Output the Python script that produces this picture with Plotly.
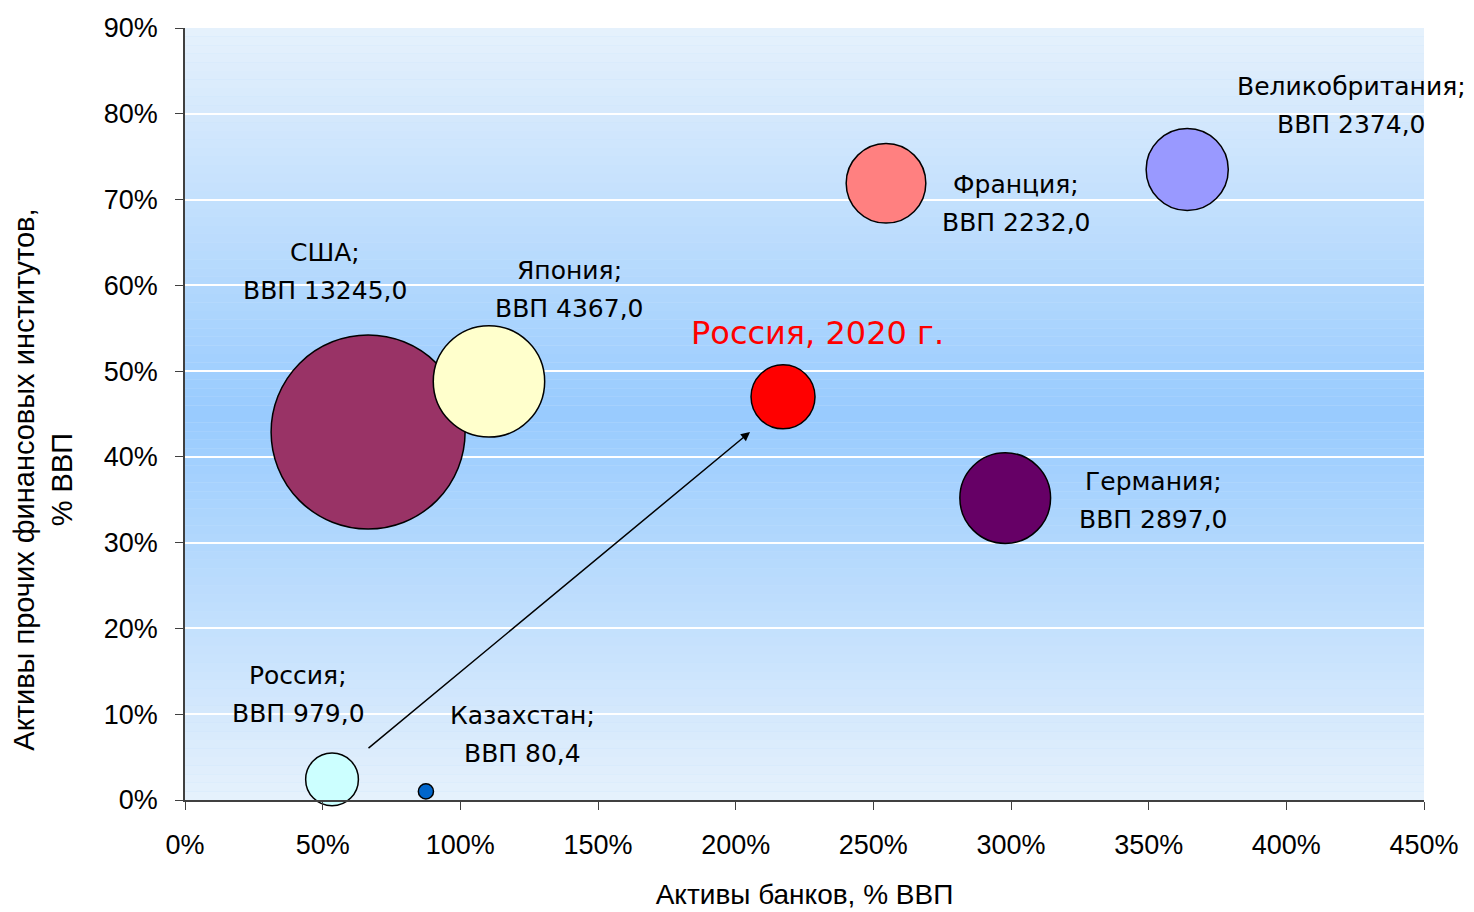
import plotly.graph_objects as go

# ---- data ----
countries = ["Россия", "Казахстан", "США", "Япония", "Франция", "Великобритания", "Германия", "Россия, 2020 г."]
bank_assets = [53.4, 87.5, 66.5, 110.4, 254.6, 364.0, 297.9, 217.2]      # % ВВП (x)
other_assets = [2.4, 1.0, 42.9, 48.8, 71.9, 73.5, 35.2, 47.0]            # % ВВП (y)
gdp = [979.0, 80.4, 13245.0, 4367.0, 2232.0, 2374.0, 2897.0, 1440.0]
gdp_labels = ["979,0", "80,4", "13245,0", "4367,0", "2232,0", "2374,0", "2897,0", None]
colors = ["#CCFFFF", "#0066CC", "#993366", "#FFFFCC", "#FF8080", "#9999FF", "#660066", "#FF0000"]

x_ticks = [0, 50, 100, 150, 200, 250, 300, 350, 400, 450]
y_ticks = [0, 10, 20, 30, 40, 50, 60, 70, 80, 90]
x_tick_labels = ["%d%%" % v for v in x_ticks]
y_tick_labels = ["%d%%" % v for v in y_ticks]

arrow_from = (66.1, 5.9)
arrow_to = (205.2, 42.9)

# label offsets in pixels (dx, dy-up) of the label block centre from bubble centre
label_offsets = [(-34, 85), (97, 57), (-43, 161), (81, 92), (130, -20), (164, 64), (148, -2), (34, 64)]

MAX_DIAM = 194

fig = go.Figure()

# gradient background of plot area
n = 90
top = (230, 241, 252)
mid = (152, 203, 254)
for i in range(n):
    t0 = i / n
    t1 = (i + 1) / n
    tc = (t0 + t1) / 2
    f = 1 - abs(tc - 0.5) / 0.5
    c = tuple(round(top[k] + (mid[k] - top[k]) * f) for k in range(3))
    fig.add_shape(type="rect", xref="x domain", yref="y domain", x0=0, x1=1, y0=t0, y1=t1,
                  fillcolor="rgb(%d,%d,%d)" % c, line=dict(width=0), layer="below")

fig.add_trace(go.Scatter(
    x=bank_assets, y=other_assets, mode="markers",
    marker=dict(size=gdp, sizemode="area", sizeref=2 * max(gdp) / MAX_DIAM ** 2,
                color=colors, line=dict(color="black", width=1.5), opacity=1),
    hoverinfo="skip", showlegend=False, cliponaxis=False,
))

label_font = dict(family="DejaVu Sans, Verdana, sans-serif", size=25, color="black")
for name, x, y, g, (dx, dy) in zip(countries, bank_assets, other_assets, gdp_labels, label_offsets):
    if g is None:
        fig.add_annotation(x=x, y=y, text=name, showarrow=False, xshift=dx, yshift=dy,
                           font=dict(family="DejaVu Sans, Verdana, sans-serif", size=32, color="#FF0000"))
    else:
        fig.add_annotation(x=x, y=y, text=name + ";", showarrow=False, xshift=dx, yshift=dy + 19,
                           font=label_font)
        fig.add_annotation(x=x, y=y, text="ВВП " + g, showarrow=False, xshift=dx, yshift=dy - 19,
                           font=label_font)

fig.add_annotation(x=arrow_to[0], y=arrow_to[1], ax=arrow_from[0], ay=arrow_from[1],
                   xref="x", yref="y", axref="x", ayref="y", showarrow=True,
                   arrowhead=2, arrowsize=1.2, arrowwidth=1.5, arrowcolor="black", text="")

axis_font = dict(family="Liberation Sans, Arial, sans-serif", size=27, color="black")
fig.update_xaxes(range=[0, 450], tickmode="array", tickvals=x_ticks, ticktext=x_tick_labels,
                 showgrid=False, zeroline=False,
                 showline=True, linecolor="#404040", linewidth=1.5, ticks="outside", ticklen=8,
                 tickcolor="#404040", tickfont=axis_font, ticklabelstandoff=12,
                 title=dict(text="Активы банков, % ВВП", font=dict(family="Liberation Sans, Arial, sans-serif",
                            size=28, color="black"), standoff=25))
fig.update_yaxes(range=[0, 90], tickmode="array", tickvals=y_ticks, ticktext=y_tick_labels,
                 showgrid=True, gridcolor="white",
                 gridwidth=2, zeroline=False, showline=True, linecolor="#404040", linewidth=1.5,
                 ticks="outside", ticklen=8, tickcolor="#404040", tickfont=axis_font, ticklabelstandoff=12)

fig.add_annotation(xref="paper", yref="paper", x=-0.1146, y=0.415, xanchor="center", yanchor="middle",
                   text="Активы прочих финансовых институтов,<br>% ВВП", textangle=-90, showarrow=False,
                   font=dict(family="Liberation Sans, Arial, sans-serif", size=29, color="black"))

fig.update_layout(
    width=1474, height=912,
    margin=dict(l=177, r=58, t=20, b=120, autoexpand=False),
    paper_bgcolor="white", plot_bgcolor="#C6E2FD",
)

fig.write_html("out.html")
